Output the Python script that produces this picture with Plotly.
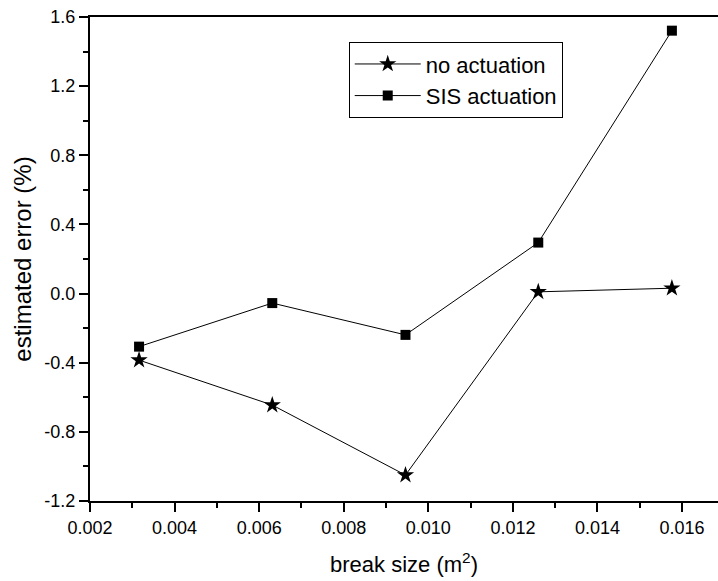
import plotly.graph_objects as go

break_size = [0.00316, 0.00631, 0.00946, 0.0126, 0.01576]
no_actuation = [-0.385, -0.645, -1.05, 0.01, 0.031]
sis_actuation = [-0.307, -0.055, -0.239, 0.295, 1.521]

x_ticks = [0.002, 0.004, 0.006, 0.008, 0.010, 0.012, 0.014, 0.016]
x_labels = ["0.002", "0.004", "0.006", "0.008", "0.010", "0.012", "0.014", "0.016"]
y_ticks = [-1.2, -0.8, -0.4, 0.0, 0.4, 0.8, 1.2, 1.6]
y_labels = ["-1.2", "-0.8", "-0.4", "0.0", "0.4", "0.8", "1.2", "1.6"]

font = "Liberation Sans"

fig = go.Figure()
fig.add_trace(go.Scatter(
    x=break_size, y=no_actuation, name="no actuation", mode="lines+markers",
    line=dict(color="black", width=1),
    marker=dict(symbol="star", size=13, color="black"),
))
fig.add_trace(go.Scatter(
    x=break_size, y=sis_actuation, name="SIS actuation", mode="lines+markers",
    line=dict(color="black", width=1),
    marker=dict(symbol="square", size=10, color="black"),
))

fig.update_layout(
    width=718, height=581,
    margin=dict(l=90, r=0, t=17, b=80),
    paper_bgcolor="white", plot_bgcolor="white",
    font=dict(family=font, size=18, color="black"),
    showlegend=True,
    legend=dict(
        x=0.412, y=0.948, xanchor="left", yanchor="top",
        bordercolor="black", borderwidth=1, bgcolor="white",
        font=dict(family=font, size=22),
        itemwidth=66, tracegroupgap=0,
    ),
    xaxis=dict(
        range=[0.002, 0.01685],
        tickmode="array", tickvals=x_ticks, ticktext=x_labels,
        ticks="outside", ticklen=9, tickwidth=2, tickcolor="black",
        minor=dict(dtick=0.001, tick0=0.001, ticks="outside", ticklen=5, tickwidth=1.5, tickcolor="black"),
        showline=True, linewidth=2, linecolor="black", mirror=True,
        showgrid=False, zeroline=False,
        title=dict(text="break size (m<sup>2</sup>)", font=dict(family=font, size=22), standoff=20),
        tickfont=dict(family=font, size=18),
    ),
    yaxis=dict(
        range=[-1.2, 1.6],
        tickmode="array", tickvals=y_ticks, ticktext=y_labels,
        ticks="outside", ticklen=9, tickwidth=2, tickcolor="black",
        minor=dict(dtick=0.2, tick0=0.0, ticks="outside", ticklen=5, tickwidth=1.5, tickcolor="black"),
        showline=True, linewidth=2, linecolor="black",
        showgrid=False, zeroline=False,
        title=dict(text="estimated error (%)", font=dict(family=font, size=24), standoff=6),
        tickfont=dict(family=font, size=18),
    ),
)

fig.write_html("out.html")
